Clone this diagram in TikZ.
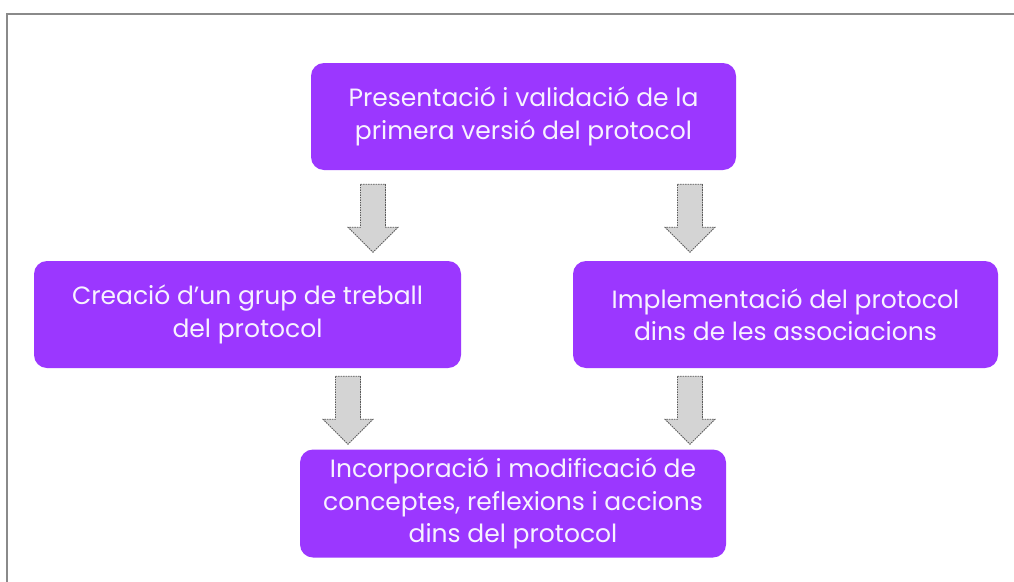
\documentclass[tikz,border=0pt]{standalone}
\usepackage{fontspec}
\setmainfont{Poppins}
\usetikzlibrary{calc}
\definecolor{boxpurple}{HTML}{9B37FF}
\definecolor{boxtext}{HTML}{F7F2FF}
\definecolor{framegray}{HTML}{8A8A8A}
\definecolor{arrowfill}{HTML}{D4D4D4}
\definecolor{arrowline}{HTML}{5A5A5A}
\tikzset{
  stepbox/.style={rectangle, rounded corners=13pt, fill=boxpurple, draw=none,
    text=boxtext, align=center, inner sep=0pt,
    font=\fontsize{25}{32.5}\selectfont},
  blockarrow/.style={fill=arrowfill, draw=arrowline, line width=0.8pt,
    dash pattern=on 1.6pt off 0.9pt},
  pics/downarrow/.style={code={
    \draw[blockarrow] (-12.5,0) -- (12.5,0) -- (12.5,43) -- (25,43) -- (0,68)
      -- (-25,43) -- (-12.5,43) -- cycle;}}
}
\begin{document}
\begin{tikzpicture}[x=1pt,y=-1pt]
\useasboundingbox (0,0) rectangle (1014,581);
\fill[white] (0,0) rectangle (1014,581);
\draw[framegray, line width=2.6pt] (7,590) -- (7,14) -- (1025,14);

\node[stepbox, minimum width=425pt, minimum height=107pt] (top) at (523.5,116.5)
  {Presentació i validació de la\\primera versió del protocol};
\node[stepbox, minimum width=427pt, minimum height=107pt] (left) at (247.5,314.5)
  {Creació d’un grup de treball\\del protocol};
\node[stepbox, minimum width=425pt, minimum height=107pt] (right) at (785.5,314.5)
  {Implementació del protocol\\dins de les associacions};
\node[stepbox, minimum width=426pt, minimum height=108pt] (bottom) at (513,503.5)
  {Incorporació i modificació de\\conceptes, reflexions i accions\\dins del protocol};

\coordinate (a1) at ($(top.south)+(-150.5,14)$);
\coordinate (a2) at ($(top.south)+(166.5,14)$);
\coordinate (a3) at ($(left.south)+(100.5,8)$);
\coordinate (a4) at ($(right.south)+(-95.5,8)$);
\pic at (a1) {downarrow};
\pic at (a2) {downarrow};
\pic at (a3) {downarrow};
\pic at (a4) {downarrow};
\end{tikzpicture}
\end{document}
